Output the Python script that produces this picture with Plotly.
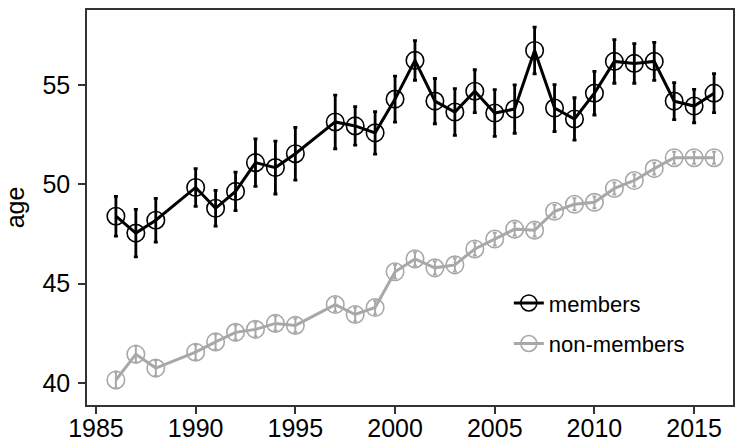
import plotly.graph_objs as go

years = [1986, 1987, 1988, 1990, 1991, 1992, 1993, 1994, 1995, 1997,
         1998, 1999, 2000, 2001, 2002, 2003, 2004, 2005, 2006, 2007,
         2008, 2009, 2010, 2011, 2012, 2013, 2014, 2015, 2016]

members = [48.4, 47.55, 48.2, 49.85, 48.8, 49.65, 51.1, 50.85, 51.55, 53.15,
           52.95, 52.6, 54.3, 56.25, 54.2, 53.65, 54.7, 53.6, 53.8, 56.75,
           53.85, 53.3, 54.6, 56.2, 56.1, 56.2, 54.2, 53.95, 54.6]
members_err = [1.0, 1.2, 1.1, 0.95, 0.9, 0.97, 1.2, 1.33, 1.33, 1.35,
               0.97, 1.07, 1.16, 1.0, 1.14, 1.18, 1.08, 1.18, 1.22, 1.18,
               1.18, 1.07, 1.1, 1.1, 1.0, 0.96, 0.93, 0.84, 0.98]

non_members = [40.15, 41.45, 40.75, 41.55, 42.07, 42.55, 42.7, 43.0, 42.9, 43.95,
               43.45, 43.8, 45.6, 46.25, 45.8, 45.95, 46.75, 47.25, 47.75, 47.7,
               48.65, 49.0, 49.1, 49.8, 50.2, 50.8, 51.35, 51.35, 51.35]
non_members_err = [0.42, 0.42, 0.4, 0.38, 0.38, 0.36, 0.36, 0.36, 0.35, 0.35,
                   0.35, 0.35, 0.34, 0.34, 0.33, 0.33, 0.33, 0.32, 0.32, 0.32,
                   0.32, 0.3, 0.3, 0.3, 0.3, 0.3, 0.3, 0.3, 0.3]

grey = '#a8a8a8'
font = 'Arial, Liberation Sans, Helvetica, sans-serif'

fig = go.Figure([
    go.Scatter(
        name='members',
        x=years,
        y=members,
        mode='lines+markers',
        line=dict(color='black', width=3),
        marker=dict(symbol='circle-open', size=17.5, color='black', line=dict(width=1.6)),
        error_y=dict(type='data', array=members_err, color='black', thickness=2.8, width=2),
        legendgroup='a'
    ),
    go.Scatter(
        name='non-members',
        x=years,
        y=non_members,
        mode='lines+markers',
        line=dict(color=grey, width=3),
        marker=dict(symbol='circle-open', size=17.5, color=grey, line=dict(width=1.6)),
        error_y=dict(type='data', array=non_members_err, color=grey, thickness=2, width=2),
        legendgroup='b'
    )
])

axis_style = dict(
    showgrid=False,
    zeroline=False,
    showline=True,
    mirror=True,
    automargin=False,
    linecolor='#333333',
    linewidth=1.5,
    ticks='outside',
    ticklen=7,
    tickwidth=1.5,
    tickcolor='#333333',
    tickfont=dict(family=font, size=25, color='black'),
)

fig.update_layout(
    width=737,
    height=442,
    margin=dict(l=87, r=4, t=10, b=37),
    plot_bgcolor='white',
    paper_bgcolor='white',
    font=dict(family=font, color='black'),
    xaxis=dict(range=[1984.55, 2016.95], tickvals=[1985, 1990, 1995, 2000, 2005, 2010, 2015],
               ticklabelstandoff=-7, **axis_style),
    yaxis=dict(range=[38.89, 58.79], tickvals=[40, 45, 50, 55], ticklabelstandoff=3,
               title=dict(text='age', font=dict(family=font, size=25), standoff=11), **axis_style),
    legend=dict(
        x=0.653, y=0.206, xanchor='left', yanchor='middle',
        bgcolor='rgba(0,0,0,0)',
        font=dict(family=font, size=22, color='black'),
        tracegroupgap=9,
    ),
    showlegend=True,
)

# page margin off so the figure sits at the window corner
fig.write_html("out.html", config={'displayModeBar': False},
               post_script="document.body.style.margin='0';")
